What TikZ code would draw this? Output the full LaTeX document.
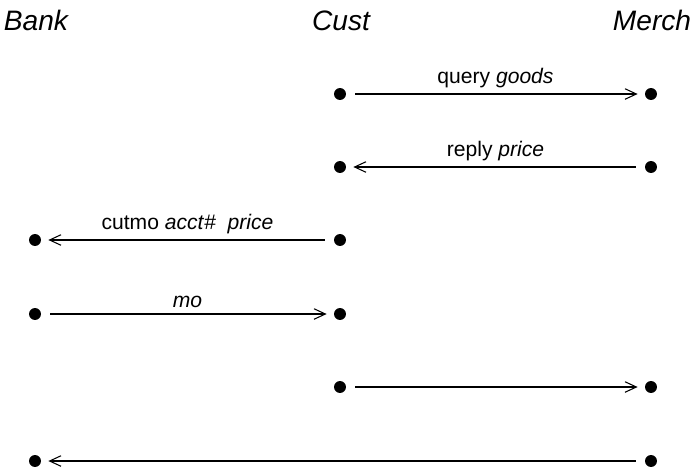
\documentclass[tikz,border=0pt]{standalone}
\usepackage{fontspec}
\setmainfont{Liberation Sans}
\usetikzlibrary{arrows.meta}
\tikzset{
  party/.style={font=\fontsize{16}{19}\selectfont\itshape, anchor=base},
  dot/.style={circle, fill=black, inner sep=0pt, minimum size=6.8pt},
  msg/.style={-{Straight Barb[length=6.5pt, width=6pt]}, line width=0.6pt,
    shorten <=5pt, shorten >=4pt},
  msglabel/.style={font=\fontsize{12}{14}\selectfont, above, midway}
}

\begin{document}
\begin{tikzpicture}[x=0.02cm, y=-0.02cm]
  \useasboundingbox (0,0) rectangle (693,471);
  % Participants
  \node[party] (bank) at (36,30) {Bank};
  \node[party] (cust) at (341,30) {Cust};
  \node[party] (merch) at (652,30) {Merch};
  % Events
  \node[dot] (c1) at (340,94) {};
  \node[dot] (m1) at (651,94) {};
  \node[dot] (c2) at (340,167) {};
  \node[dot] (m2) at (651,167) {};
  \node[dot] (b3) at (35,240) {};
  \node[dot] (c3) at (340,240) {};
  \node[dot] (b4) at (35,314) {};
  \node[dot] (c4) at (340,314) {};
  \node[dot] (c5) at (340,387) {};
  \node[dot] (m5) at (651,387) {};
  \node[dot] (b6) at (35,461) {};
  \node[dot] (m6) at (651,461) {};
  % Messages
  \draw[msg] (c1) -- node[msglabel] {query \textit{goods}} (m1);
  \draw[msg] (m2) -- node[msglabel] {reply \textit{price}} (c2);
  \draw[msg] (c3) -- node[msglabel] {cutmo \textit{acct}$\#$\ \ \textit{price}} (b3);
  \draw[msg] (b4) -- node[msglabel] {\textit{mo}} (c4);
  \draw[msg] (c5) -- (m5);
  \draw[msg] (m6) -- (b6);
\end{tikzpicture}
\end{document}
